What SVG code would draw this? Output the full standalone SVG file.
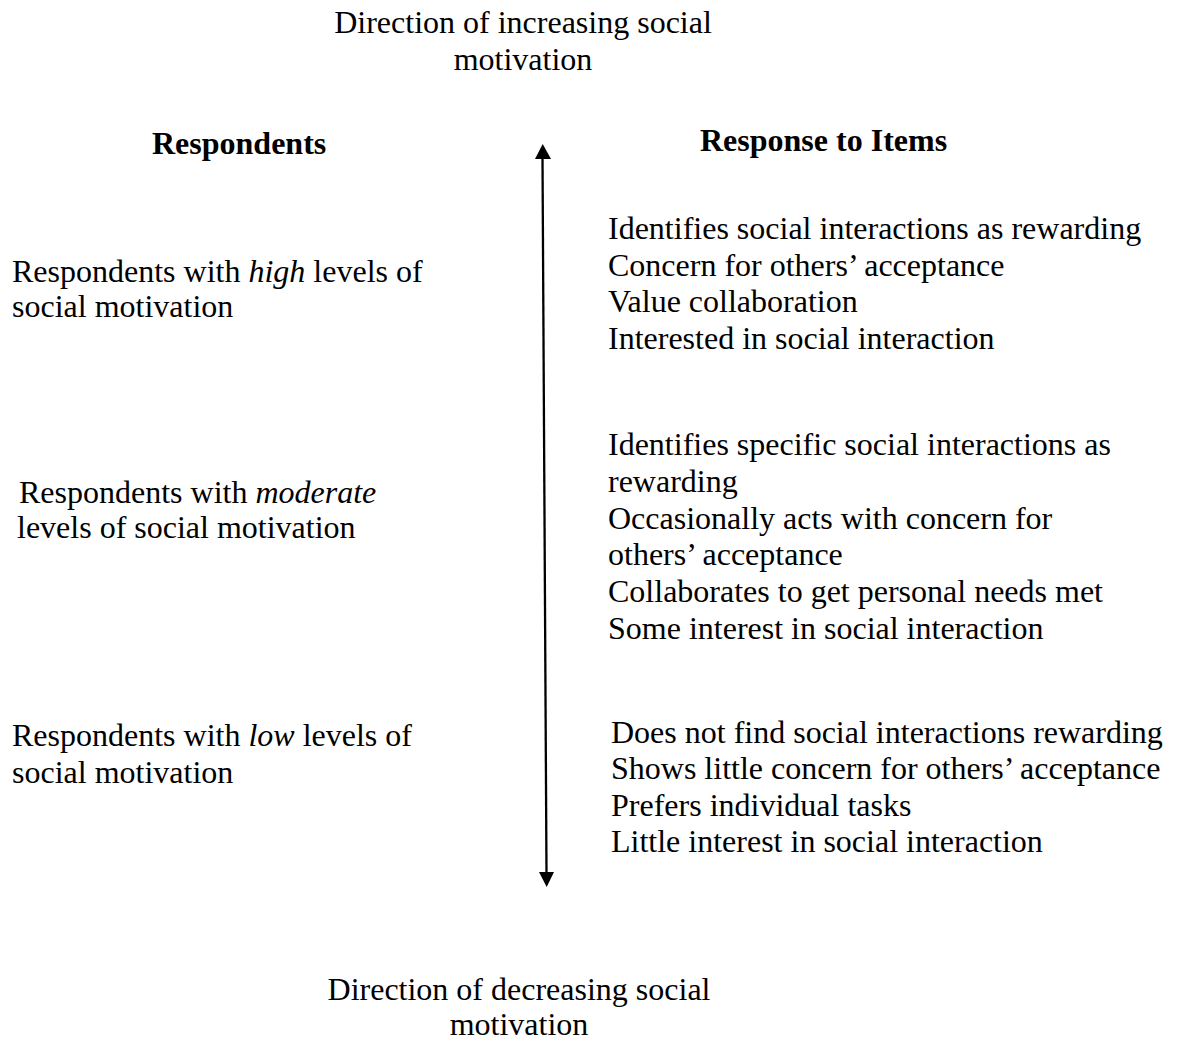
<svg xmlns="http://www.w3.org/2000/svg" width="1181" height="1041" viewBox="0 0 1181 1041">
<style>
text{font-family:"Liberation Serif","Times New Roman",serif;font-size:32px;fill:#000}
.b{font-weight:bold}
.c{text-anchor:middle}
</style>
<rect width="1181" height="1041" fill="#fff"/>
<g id="top-label"><text class="c" x="523" y="33">Direction of increasing social</text><text class="c" x="523" y="70">motivation</text></g>
<g id="bottom-label"><text class="c" x="519" y="1000">Direction of decreasing social</text><text class="c" x="519" y="1035">motivation</text></g>
<g id="h-respondents"><text class="b" x="152" y="154">Respondents</text></g>
<g id="h-response"><text class="b" x="700" y="151">Response to Items</text></g>
<g id="connectors">
<line x1="542.5" y1="158" x2="546.5" y2="873" stroke="#000" stroke-width="2.3"/>
<path d="M542.7,144 L551,159 L535,159 Z" fill="#000"/>
<path d="M546.7,887 L539,872 L554,872 Z" fill="#000"/>
</g>
<g id="high"><text x="12" y="282">Respondents with <tspan font-style="italic">high</tspan> levels of</text><text x="12" y="317">social motivation</text></g>
<g id="moderate"><text x="19" y="503">Respondents with <tspan font-style="italic">moderate</tspan></text><text x="17" y="538">levels of social motivation</text></g>
<g id="low"><text x="12" y="746">Respondents with <tspan font-style="italic">low</tspan> levels of</text><text x="12" y="783">social motivation</text></g>
<g id="high-items">
<text x="608" y="239">Identifies social interactions as rewarding</text>
<text x="608" y="276">Concern for others’ acceptance</text>
<text x="608" y="312">Value collaboration</text>
<text x="608" y="349">Interested in social interaction</text>
</g>
<g id="moderate-items">
<text x="608" y="455">Identifies specific social interactions as</text>
<text x="608" y="492">rewarding</text>
<text x="608" y="529">Occasionally acts with concern for</text>
<text x="608" y="565">others’ acceptance</text>
<text x="608" y="602">Collaborates to get personal needs met</text>
<text x="608" y="639">Some interest in social interaction</text>
</g>
<g id="low-items">
<text x="611" y="743">Does not find social interactions rewarding</text>
<text x="611" y="779">Shows little concern for others’ acceptance</text>
<text x="611" y="816">Prefers individual tasks</text>
<text x="611" y="852">Little interest in social interaction</text>
</g>
</svg>
